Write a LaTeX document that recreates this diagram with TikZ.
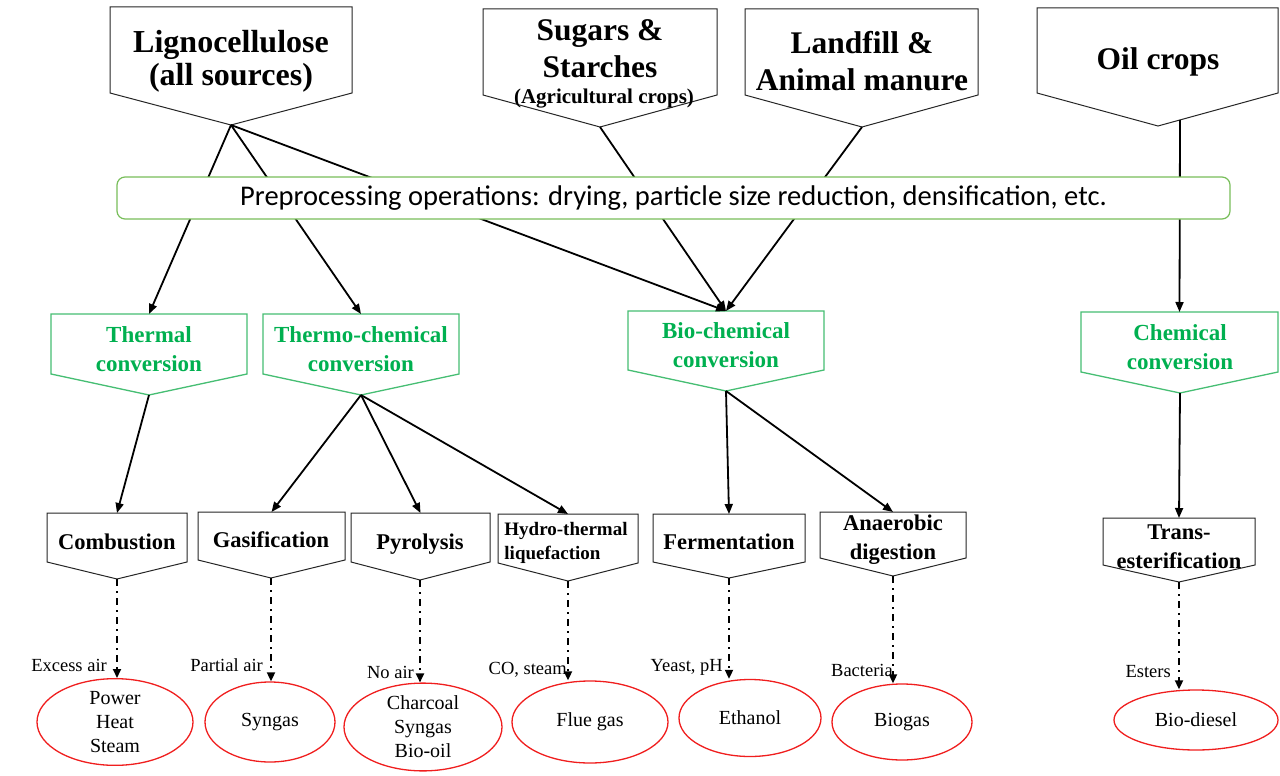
\documentclass[tikz,border=0pt]{standalone}
\usepackage{fontspec}
\setmainfont{Liberation Serif}
\newfontfamily\calfont{Carlito}
\usetikzlibrary{arrows.meta,shapes.geometric}
\definecolor{gtext}{RGB}{0,176,80}
\definecolor{gline}{RGB}{70,190,115}
\definecolor{pline}{RGB}{120,190,90}
\definecolor{rline}{RGB}{240,30,30}
% #1 name, #2 style, #3 left x, #4 right x, #5 top y, #6 side bottom y, #7 tip x, #8 tip y
\newcommand\pentbox[8]{%
  \draw[#2] (#3,#5) -- (#4,#5) -- (#4,#6) -- (#7,#8) -- (#3,#6) -- cycle;
  \coordinate (#1-tip) at (#7,#8);
  \coordinate (#1-top) at ({(#3+#4)/2},#5);
}
\begin{document}
\begin{tikzpicture}[x=1pt,y=-1pt,
  src/.style={draw=black!85, line width=1pt, fill=white},
  conv/.style={draw=gline, line width=1.3pt, fill=white},
  proc/.style={draw=black!85, line width=1pt, fill=white},
  arr/.style={-{Triangle[length=10pt,width=8pt]}, line width=1.8pt},
  darr/.style={-{Triangle[length=9pt,width=8pt]}, line width=1.8pt, dash pattern=on 7pt off 5pt on 2pt off 5pt},
  big/.style={font=\bfseries\fontsize{31.5}{37}\selectfont, align=center, inner sep=0},
  ctext/.style={text=gtext, font=\bfseries\fontsize{23}{29}\selectfont, align=center, inner sep=0},
  ptext/.style={font=\bfseries\fontsize{22.5}{29}\selectfont, align=center, inner sep=0},
  outc/.style={ellipse, draw=rline, line width=1.3pt, inner sep=0, font=\fontsize{20}{24}\selectfont, align=center},
  lab/.style={font=\fontsize{18.5}{21}\selectfont, inner sep=0, anchor=east}
]
\useasboundingbox (0,0) rectangle (1280,776);
\fill[white] (0,0) rectangle (1280,776);

% source boxes
\pentbox{ligno}{src}{110}{352}{7}{93}{231}{125}
\pentbox{sugar}{src}{483}{717}{9}{95}{600}{127}
\pentbox{land}{src}{745}{978}{9}{95}{862}{127}
\pentbox{oil}{src}{1037}{1278}{8}{93}{1158}{126}
\node[big, font=\bfseries\fontsize{32}{33}\selectfont] (lignot) at (231,61) {Lignocellulose\\(all sources)};
\node[big] (sugart) at (600,49) {Sugars \&\\Starches};
\node[inner sep=0, font=\bfseries\fontsize{21}{22}\selectfont] (agri) at (604,99) {(Agricultural crops)};
\node[big] (landt) at (862,61) {Landfill \&\\Animal manure};
\node[big] (oilt) at (1158,62) {Oil crops};

% conversion boxes
\pentbox{therm}{conv}{51}{247}{314}{374}{149}{395}
\pentbox{tchem}{conv}{263}{459}{314}{374}{361}{395}
\pentbox{bio}{conv}{628}{824}{311}{370}{726}{391}
\pentbox{chem}{conv}{1081}{1278}{312}{372}{1180}{393}
\coordinate (oil-out) at (1180,120);

% arrows from sources
\draw[arr] (ligno-tip) -- (therm-top);
\draw[arr] (ligno-tip) -- (tchem-top);
\draw[arr] (ligno-tip) -- (bio-top);
\draw[arr] (sugar-tip) -- (bio-top);
\draw[arr] (land-tip) -- (bio-top);
\draw[arr] (oil-out) -- (chem-top);

% preprocessing
\node[draw=pline, line width=1.2pt, rounded corners=8pt, fill=white,
      minimum width=1113pt, minimum height=42pt,
      font=\calfont\fontsize{28.5}{30}\selectfont] (prep) at (673.5,198)
  {Preprocessing operations: drying, particle size reduction, densification, etc.};

\node[ctext] (thermt) at (149,349) {Thermal\\conversion};
\node[ctext] (tchemt) at (361,349) {Thermo-chemical\\conversion};
\node[ctext] (biot) at (726,345) {Bio-chemical\\conversion};
\node[ctext] (chemt) at (1180,347) {Chemical\\conversion};

% process boxes
\pentbox{comb}{proc}{47}{187}{513}{562}{117}{579}
\pentbox{gas}{proc}{198}{345}{512}{560}{271}{578}
\pentbox{pyro}{proc}{351}{490}{513}{562}{420}{580}
\pentbox{hydro}{proc}{498}{638}{514}{563}{568}{581}
\pentbox{ferm}{proc}{653}{805}{514}{562}{729}{578}
\pentbox{ana}{proc}{820}{966}{512}{558}{893}{576}
\pentbox{trans}{proc}{1103}{1255}{518}{565}{1179}{582}
\node[ptext] (combt) at (117,542) {Combustion};
\node[ptext] (gast) at (271,540) {Gasification};
\node[ptext] (pyrot) at (420,544) {Pyrolysis};
\node[inner sep=0, align=left, font=\bfseries\fontsize{19}{24}\selectfont] (hydrot) at (566,543) {Hydro-thermal\\liquefaction};
\node[ptext] (fermt) at (729,542) {Fermentation};
\node[ptext] (anat) at (893,540) {Anaerobic\\digestion};
\node[ptext] (transt) at (1179,547) {Trans-\\esterification};

% arrows conversion -> process
\draw[arr] (therm-tip) -- (comb-top);
\draw[arr] (tchem-tip) -- (gas-top);
\draw[arr] (tchem-tip) -- (pyro-top);
\draw[arr] (tchem-tip) -- (hydro-top);
\draw[arr] (bio-tip) -- (ferm-top);
\draw[arr] (bio-tip) -- (ana-top);
\draw[arr] (chem-tip) -- (trans-top);

% products
\node[outc, minimum width=156pt, minimum height=80pt] (power) at (115,722) {Power\\Heat\\Steam};
\node[outc, minimum width=130pt, minimum height=80pt] (syngas) at (270,722) {Syngas};
\node[outc, minimum width=158pt, minimum height=82pt] (charc) at (423,727) {Charcoal\\Syngas\\Bio-oil};
\node[outc, minimum width=156pt, minimum height=82pt] (flue) at (590,722) {Flue gas};
\node[outc, minimum width=142pt, minimum height=77pt] (ethan) at (750,718) {Ethanol};
\node[outc, minimum width=140pt, minimum height=76pt] (biogas) at (902,722) {Biogas};
\node[outc, minimum width=164pt, minimum height=60pt] (biod) at (1196,720) {Bio-diesel};

% dash-dot arrows
\draw[darr] (comb-tip) -- (comb-tip |- power.north);
\draw[darr] (gas-tip) -- (gas-tip |- syngas.north);
\draw[darr] (pyro-tip) -- (pyro-tip |- charc.north);
\draw[darr] (hydro-tip) -- (hydro-tip |- flue.north);
\draw[darr] (ferm-tip) -- (ferm-tip |- ethan.north);
\draw[darr] (ana-tip) -- (ana-tip |- biogas.north);
\draw[darr] (trans-tip) -- (trans-tip |- biod.north);

% labels
\node[lab] (l1) at (107,665) {Excess air};
\node[lab] (l2) at (263,665) {Partial air};
\node[lab] (l3) at (414,672) {No air};
\node[lab] (l4) at (567,670) {CO, steam};
\node[lab] (l5) at (723,667) {Yeast, pH};
\node[lab] (l6) at (893,670) {Bacteria};
\node[lab] (l7) at (1171,672) {Esters};
\end{tikzpicture}
\end{document}
